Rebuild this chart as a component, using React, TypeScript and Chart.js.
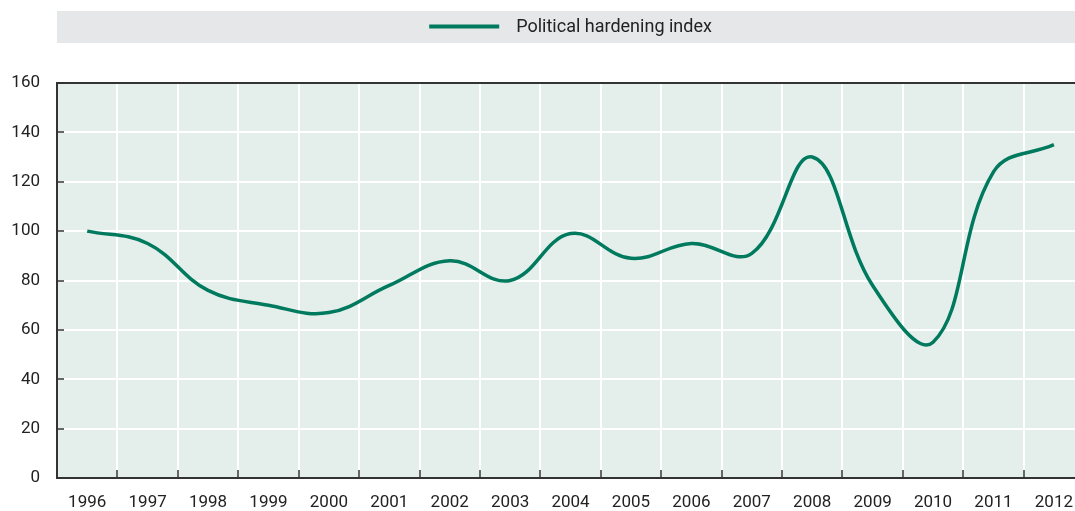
import React, { useEffect, useRef } from "react";
import { Chart, registerables } from "chart.js";

Chart.register(...registerables);

const years: string[] = [
  "1996", "1997", "1998", "1999", "2000", "2001", "2002", "2003", "2004",
  "2005", "2006", "2007", "2008", "2009", "2010", "2011", "2012",
];
const hardeningIndex: number[] = [
  100, 95, 76, 70, 67, 78, 88, 80, 99, 89, 95, 91, 130, 78, 55, 124, 135,
];
const seriesLabel = "Political hardening index";
const yTicks: number[] = [0, 20, 40, 60, 80, 100, 120, 140, 160];

const LINE_COLOR = "#007a5e";
const PLOT_BG = "#e4eeea";
const LEGEND_BG = "#e6e7e9";
const AXIS_COLOR = "#333333";
const TEXT_COLOR = "#222222";
const FONT_FAMILY = "Roboto, 'Liberation Sans', sans-serif";

const decorPlugin = {
  id: "decor",
  beforeDraw(chart: any) {
    const { ctx, chartArea } = chart;
    const { left, right, top, bottom } = chartArea;
    ctx.save();
    // legend band
    ctx.fillStyle = LEGEND_BG;
    ctx.fillRect(left, 11, right - left, 32);
    // plot background
    ctx.fillStyle = PLOT_BG;
    ctx.fillRect(left, top, right - left, bottom - top);
    // legend content
    const label = chart.data.datasets[0].label as string;
    ctx.font = `18px ${FONT_FAMILY}`;
    const tw = ctx.measureText(label).width;
    const lineW = 70;
    const gap = 17;
    const total = lineW + gap + tw;
    const cx = (left + right) / 2;
    const x0 = cx - total / 2;
    const cy = 26.5;
    ctx.strokeStyle = LINE_COLOR;
    ctx.lineWidth = 4;
    ctx.beginPath();
    ctx.moveTo(x0, cy);
    ctx.lineTo(x0 + lineW, cy);
    ctx.stroke();
    ctx.fillStyle = TEXT_COLOR;
    ctx.textBaseline = "middle";
    ctx.textAlign = "left";
    ctx.fillText(label, x0 + lineW + gap, cy + 1);
    ctx.restore();
  },
  afterDatasetsDraw(chart: any) {
    const { ctx, chartArea, scales } = chart;
    const { left, right, top, bottom } = chartArea;
    ctx.save();
    // top border
    ctx.strokeStyle = AXIS_COLOR;
    ctx.lineWidth = 2;
    ctx.beginPath();
    ctx.moveTo(left, top);
    ctx.lineTo(right, top);
    ctx.stroke();
    // inside ticks on x axis
    ctx.lineWidth = 1.5;
    const xs = scales.x;
    for (let i = 1; i < years.length; i++) {
      const px = Math.round((xs.getPixelForValue(i - 1) + xs.getPixelForValue(i)) / 2);
      ctx.beginPath();
      ctx.moveTo(px, bottom);
      ctx.lineTo(px, bottom - 8);
      ctx.stroke();
    }
    // inside ticks on y axis
    const ys = scales.y;
    for (const v of yTicks) {
      const py = Math.round(ys.getPixelForValue(v));
      ctx.beginPath();
      ctx.moveTo(left, py);
      ctx.lineTo(left + 7, py);
      ctx.stroke();
    }
    ctx.restore();
  },
};

export default function App() {
  const canvasRef = useRef<HTMLCanvasElement | null>(null);

  useEffect(() => {
    document.body.style.margin = "0";
    document.body.style.overflow = "hidden";
    const canvas = canvasRef.current;
    if (!canvas) return;
    const chart = new Chart(canvas, {
      type: "line",
      data: {
        labels: years,
        datasets: [
          {
            label: seriesLabel,
            data: hardeningIndex,
            borderColor: LINE_COLOR,
            backgroundColor: LINE_COLOR,
            borderWidth: 3.5,
            pointRadius: 0,
            tension: 0.4,
            fill: false,
          },
        ],
      },
      options: {
        responsive: false,
        animation: false,
        layout: { padding: { top: 83, right: 0, left: 0, bottom: 0 } },
        plugins: {
          legend: { display: false },
          tooltip: { enabled: false },
        },
        scales: {
          x: {
            type: "category",
            offset: true,
            grid: {
              offset: true,
              color: "#ffffff",
              lineWidth: 2,
              drawTicks: false,
            },
            border: { display: true, color: AXIS_COLOR, width: 2 },
            ticks: {
              color: TEXT_COLOR,
              font: { family: FONT_FAMILY, size: 17 },
              padding: 15,
              autoSkip: false,
              maxRotation: 0,
            },
            afterFit: (scale: any) => {
              scale.height = 33;
            },
          },
          y: {
            min: 0,
            max: 160,
            grid: {
              color: "#ffffff",
              lineWidth: 2,
              drawTicks: false,
            },
            border: { display: true, color: AXIS_COLOR, width: 2 },
            ticks: {
              stepSize: 20,
              color: TEXT_COLOR,
              font: { family: FONT_FAMILY, size: 17 },
              padding: 17,
            },
            afterFit: (scale: any) => {
              scale.width = 57;
            },
          },
        },
      },
      plugins: [decorPlugin],
    });
    return () => chart.destroy();
  }, []);

  return (
    <div style={{ width: 1075, height: 511, overflow: "hidden" }}>
      <canvas ref={canvasRef} width={1088} height={511} style={{ display: "block" }} />
    </div>
  );
}
